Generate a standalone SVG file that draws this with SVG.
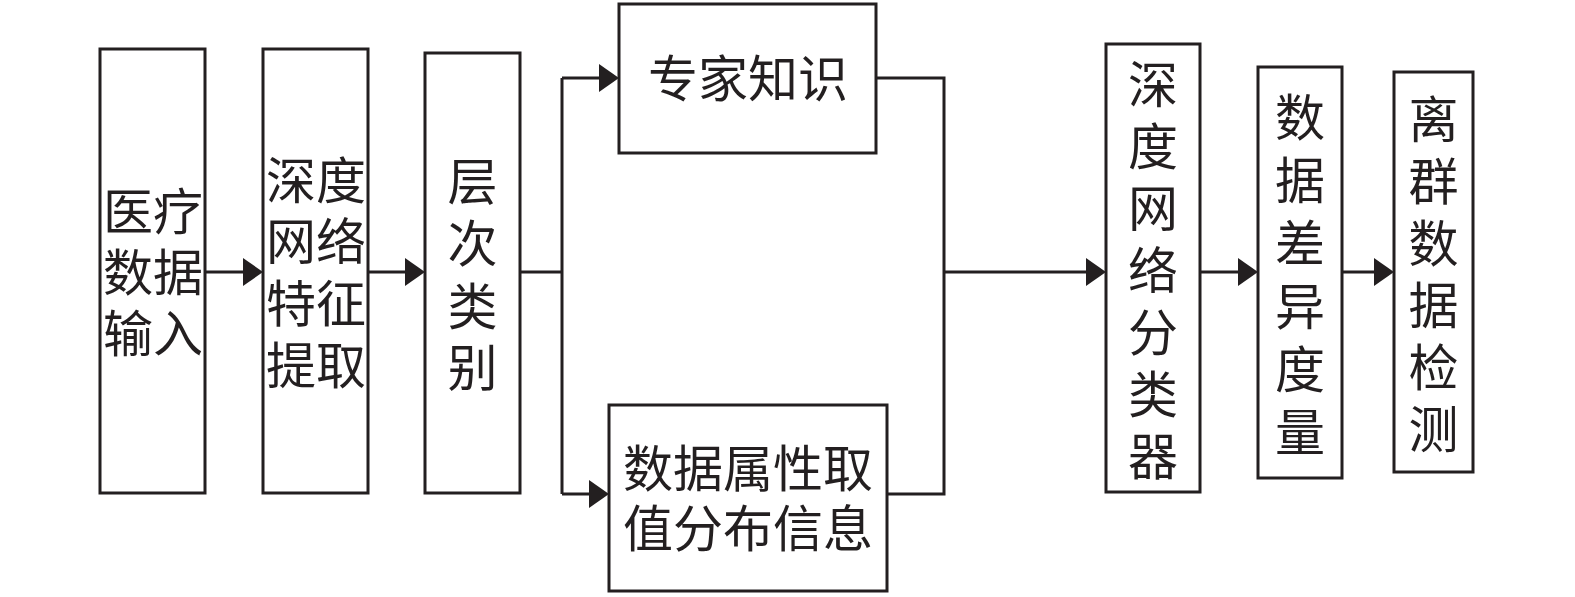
<svg xmlns="http://www.w3.org/2000/svg" width="1575" height="597" viewBox="0 0 1575 597">
<style>
.box{fill:#fff;stroke:#231f20;stroke-width:3}
.t{font-family:"Liberation Sans","Noto Sans CJK SC","Noto Sans CJK JP",sans-serif;font-size:50px;fill:#231f20;text-anchor:middle}
.c{fill:none;stroke:#231f20;stroke-width:3;stroke-linejoin:miter}
</style>
<defs>
<marker id="ah" viewBox="0 0 20 28" refX="10" refY="14" markerWidth="20" markerHeight="28" markerUnits="userSpaceOnUse" orient="auto">
<path d="M0,0 L20,14 L0,28 Z" fill="#231f20"/>
</marker>
</defs>
<rect width="1575" height="597" fill="#fff"/>
<g id="connectors">
<path class="c" d="M205,272 H253" marker-end="url(#ah)"/>
<path class="c" d="M368,272 H415" marker-end="url(#ah)"/>
<path class="c" d="M520,272 H562"/>
<path class="c" d="M562,78 V494"/>
<path class="c" d="M562,78 H609" marker-end="url(#ah)"/>
<path class="c" d="M562,494 H599" marker-end="url(#ah)"/>
<path class="c" d="M876,78 H944 V494 H887"/>
<path class="c" d="M944,272 H1096" marker-end="url(#ah)"/>
<path class="c" d="M1200,272 H1248" marker-end="url(#ah)"/>
<path class="c" d="M1342,272 H1384" marker-end="url(#ah)"/>
</g>
<g id="n1">
<rect class="box" x="100" y="49" width="105" height="444"/>
<text class="t"><tspan x="153" y="230">医疗</tspan><tspan x="153" y="291">数据</tspan><tspan x="153" y="352">输入</tspan></text>
</g>
<g id="n2">
<rect class="box" x="263" y="49" width="105" height="444"/>
<text class="t"><tspan x="316" y="199">深度</tspan><tspan x="316" y="260">网络</tspan><tspan x="316" y="322">特征</tspan><tspan x="316" y="384">提取</tspan></text>
</g>
<g id="n3">
<rect class="box" x="425" y="53" width="95" height="440"/>
<text class="t"><tspan x="472.5" y="200">层</tspan><tspan x="472.5" y="262">次</tspan><tspan x="472.5" y="325">类</tspan><tspan x="472.5" y="386">别</tspan></text>
</g>
<g id="n4">
<rect class="box" x="619" y="4" width="257" height="149"/>
<text class="t" x="748" y="97">专家知识</text>
</g>
<g id="n5">
<rect class="box" x="609" y="405" width="278" height="186"/>
<text class="t"><tspan x="748" y="487">数据属性取</tspan><tspan x="748" y="547">值分布信息</tspan></text>
</g>
<g id="n6">
<rect class="box" x="1106" y="44" width="94" height="448"/>
<text class="t"><tspan x="1153" y="103">深</tspan><tspan x="1153" y="165">度</tspan><tspan x="1153" y="227">网</tspan><tspan x="1153" y="289">络</tspan><tspan x="1153" y="351">分</tspan><tspan x="1153" y="413">类</tspan><tspan x="1153" y="475">器</tspan></text>
</g>
<g id="n7">
<rect class="box" x="1258" y="67" width="84" height="411"/>
<text class="t"><tspan x="1300" y="136">数</tspan><tspan x="1300" y="199">据</tspan><tspan x="1300" y="262">差</tspan><tspan x="1300" y="325">异</tspan><tspan x="1300" y="388">度</tspan><tspan x="1300" y="451">量</tspan></text>
</g>
<g id="n8">
<rect class="box" x="1394" y="72" width="79" height="400"/>
<text class="t"><tspan x="1433.5" y="138">离</tspan><tspan x="1433.5" y="200">群</tspan><tspan x="1433.5" y="262">数</tspan><tspan x="1433.5" y="324">据</tspan><tspan x="1433.5" y="386">检</tspan><tspan x="1433.5" y="448">测</tspan></text>
</g>
</svg>
